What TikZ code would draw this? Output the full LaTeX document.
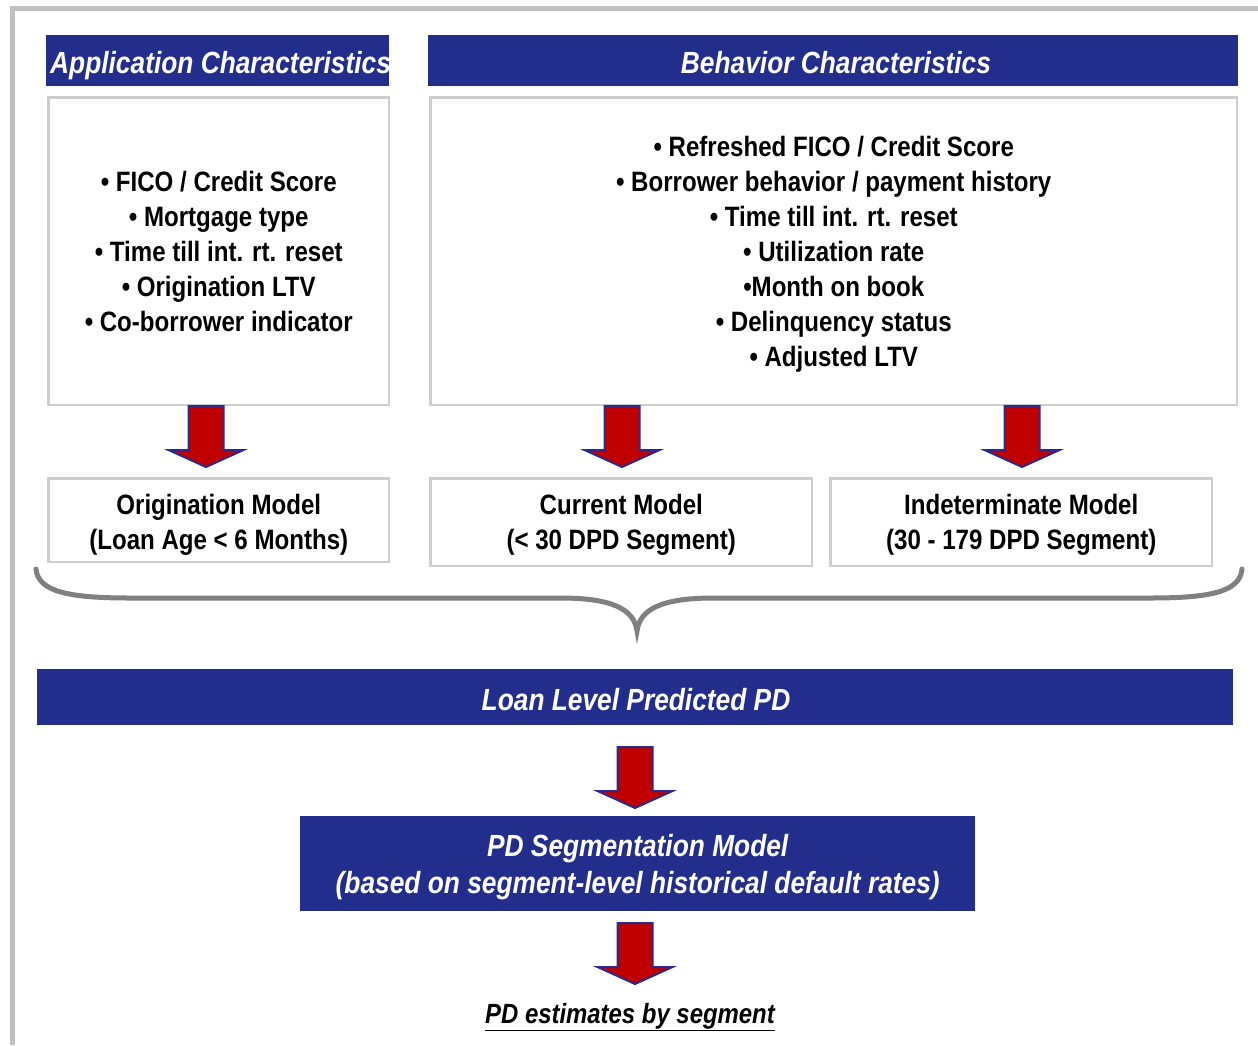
\documentclass[tikz,border=0pt]{standalone}
\usepackage{fontspec}
\setmainfont{Liberation Sans}[FakeStretch=0.86]
\definecolor{navy}{RGB}{35,46,140}
\definecolor{boxgray}{RGB}{205,205,205}
\definecolor{framegray}{RGB}{192,192,192}
\definecolor{bracegray}{RGB}{128,128,128}
\definecolor{arrred}{RGB}{192,0,0}
\definecolor{arrblue}{RGB}{45,40,140}
\begin{document}
\begin{tikzpicture}[x=1pt,y=-1pt,
  hdr/.style={fill=navy, draw=none, inner sep=0pt, anchor=north west},
  hdrtxt/.style={text=white, font=\bfseries\itshape\fontsize{30.6}{37}\selectfont, inner sep=0pt, align=center},
  box/.style={draw=boxgray, line width=2.5pt, fill=white, inner sep=0pt, anchor=north west},
  boxtxt/.style={align=center, inner sep=0pt, font=\bfseries\fontsize{28}{35}\selectfont},
  arrline/.style={draw=arrblue, line width=2pt, fill=arrred, line join=miter},
  downarrow/.pic={\path[arrline] (-17.5,0) -- (17.5,0) -- (17.5,44) -- (37.5,44) -- (0,61) -- (-37.5,44) -- (-17.5,44) -- cycle;}
]
\useasboundingbox (0,0) rectangle (1258,1045);
% outer frame
\draw[framegray, line width=5pt] (12.5,1045) -- (12.5,8) -- (1258,8);

% headers
\node[hdr, minimum width=343pt, minimum height=51pt] (apphdr) at (46,35) {};
\node[hdrtxt, anchor=base west] (apphdrtxt) at (50,73) {Application Characteristics};
\node[hdr, minimum width=810pt, minimum height=51pt] (behhdr) at (428,35) {};
\node[hdrtxt, anchor=base] (behhdrtxt) at (836,73) {Behavior Characteristics};

% characteristic boxes
\node[box, minimum width=340.5pt, minimum height=307.5pt] (app) at (47.25,96.25) {};
\node[boxtxt] (apptxt) at (app.center)
  {• FICO / Credit Score\\ • Mortgage type\\ • Time till int. rt. reset\\ • Origination LTV\\ • Co-borrower indicator};
\node[box, minimum width=806.5pt, minimum height=307.5pt] (beh) at (429.25,96.25) {};
\node[boxtxt] (behtxt) at ([yshift=-3pt]beh.center)
  {• Refreshed FICO / Credit Score\\ • Borrower behavior / payment history\\ • Time till int. rt. reset\\ • Utilization rate\\ •Month on book\\ • Delinquency status\\ • Adjusted LTV};

% arrows
\path (206,406) pic {downarrow};
\path (622,406) pic {downarrow};
\path (1022,406) pic {downarrow};

% model boxes
\node[box, minimum width=340.5pt, minimum height=83.5pt] (orig) at (47.25,477.25) {};
\node[boxtxt] (origtxt) at ([yshift=-4.5pt]orig.center) {Origination Model\\ (Loan Age < 6 Months)};
\node[box, minimum width=381.5pt, minimum height=87.5pt] (curr) at (429.25,477.25) {};
\node[boxtxt] (currtxt) at ([yshift=-3pt]curr.center) {Current Model\\ (< 30 DPD Segment)};
\node[box, minimum width=381.5pt, minimum height=87.5pt] (indet) at (829.25,477.25) {};
\node[boxtxt] (indettxt) at ([yshift=-3pt]indet.center) {Indeterminate Model\\ (30 - 179 DPD Segment)};

% brace
\draw[bracegray, line width=5pt, line cap=round]
  (36,569) .. controls (38,592) and (70,598) .. (130,598)
  -- (560,598) .. controls (610,598) and (634,608) .. (637,631)
  .. controls (640,608) and (664,598) .. (714,598)
  -- (1150,598) .. controls (1210,598) and (1240,592) .. (1242,569);

% loan level bar
\node[hdr, minimum width=1196pt, minimum height=56pt] (loan) at (37,669) {};
\node[hdrtxt, anchor=base] (loantxt) at (636,710) {Loan Level Predicted PD};

\path (635,747) pic {downarrow};

% PD segmentation model
\node[hdr, minimum width=675pt, minimum height=95pt] (seg) at (300,816) {};
\node[hdrtxt] (segtxt) at ([yshift=-3pt]seg.center) {PD Segmentation Model\\ (based on segment-level historical default rates)};

\path (635,923) pic {downarrow};

\node[font=\bfseries\itshape\fontsize{27.8}{32}\selectfont, inner sep=0pt] (est) at (630,1017) {\underline{PD estimates by segment}};
\end{tikzpicture}
\end{document}
